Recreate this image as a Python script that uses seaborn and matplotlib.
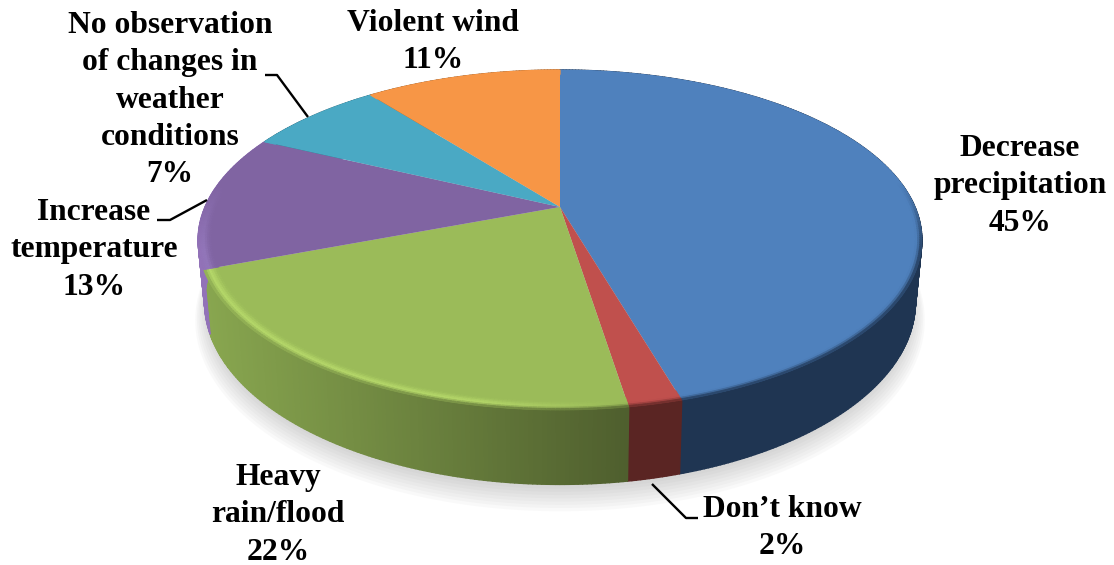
import numpy as np
import seaborn as sns
import matplotlib
matplotlib.use('Agg')
import matplotlib.pyplot as plt
from matplotlib.collections import PolyCollection
from matplotlib.colors import to_rgb
from matplotlib.transforms import Transform

# values (slice sizes, in %)
categories = ['Decrease precipitation', "Don't know", 'Heavy rain/flood',
              'Increase temperature', 'No observation of changes in weather conditions',
              'Violent wind']
shares = [45.5, 2.0, 21.7, 12.9, 7.35, 10.55]
label_texts = ['Decrease\nprecipitation\n45%', 'Don\u2019t know\n2%', 'Heavy\nrain/flood\n22%',
               'Increase\ntemperature\n13%', 'No observation\nof changes in\nweather\nconditions\n7%',
               'Violent wind\n11%']

# style per slice
face_colors = ['#4f81bd', '#c0504d', '#9bbb59', '#8064a2', '#4aa9c4', '#f79646']
wall_left = ['#1f3552', '#5a2523', '#88a64f', '#9272b8', '#2c6a7c', '#a05a20']
wall_right = ['#1f3552', '#5a2523', '#4f5f2e', '#9272b8', '#2c6a7c', '#a05a20']
rim_colors = ['#4f81bd', '#c0504d', '#b9dc6c', '#9478bc', '#4aa9c4', '#f79646']
label_pos = [(1020, 186), (782, 528), (278, 515), (94, 250), (170, 100), (433, 42)]
leaders = [[(265, 75), (277, 75), (308, 117)],
           [(157, 220), (170, 220), (207, 200)],
           [(652, 484), (686, 518), (698, 518)]]

# perspective of the disc, fitted to the picture
CX, CY, A, B, K, DEPTH = 560, 207, 355, 163.6, 0.194, 60


def project(u, v, z=0.0):
    w = 1 + K * v
    x = CX + A * u / w * (1 - 0.018 * z)
    y = CY - B * v / w + DEPTH * z / w
    return x, y


class DiscPerspective(Transform):
    input_dims = 2
    output_dims = 2

    def transform_non_affine(self, values):
        values = np.asarray(values)
        x, y = project(values[:, 0], values[:, 1])
        return np.column_stack([x, y])


def mix(a, b, t):
    return tuple(p + (q - p) * t for p, q in zip(a, b))


sns.set_theme(style='white')
plt.rcParams['font.family'] = ['Liberation Serif', 'DejaVu Serif']
palette = sns.color_palette(face_colors)

fig, ax = plt.subplots(figsize=(11.14, 5.65), dpi=100)
fig.patch.set_facecolor('white')
ax.set_position([0, 0, 1, 1])

wedges, _ = ax.pie(shares, colors=palette, startangle=90, counterclock=False, radius=1,
                   wedgeprops={'linewidth': 0})
disc = DiscPerspective() + ax.transData
for wedge in wedges:
    wedge.set_transform(disc)
    wedge.set_zorder(3)

ax.set_aspect('auto')
ax.set_xlim(0, 1114)
ax.set_ylim(565, 0)
ax.axis('off')

# soft shadow under the pie
ring = np.linspace(0, 2 * np.pi, 360)
for grow in np.linspace(1.03, 0.99, 9):
    sx, sy = project(grow * np.sin(ring), grow * np.cos(ring), 1.0 + (grow - 1) * 5 + 0.1)
    ax.fill(sx, sy, color='#808080', alpha=0.045, lw=0, zorder=1)

# side wall and bevelled rim, cut from the same slice sizes
edges = np.cumsum([0] + shares) / 100 * 2 * np.pi
wall_quads, wall_cols, rim_quads, rim_cols = [], [], [], []
RIM = 0.96
radii = np.linspace(RIM, 1.0, 8)
for i, share in enumerate(shares):
    steps = max(int(share * 6), 6)
    th = np.linspace(edges[i], edges[i + 1], steps + 1)
    base = to_rgb(face_colors[i])
    hi = to_rgb(rim_colors[i])
    for a0, a1 in zip(th[:-1], th[1:]):
        um, vm = np.sin((a0 + a1) / 2), np.cos((a0 + a1) / 2)
        xm, _ = project(um, vm)
        wall = mix(to_rgb(wall_left[i]), to_rgb(wall_right[i]), np.clip((xm - 205) / 420, 0, 1))
        x00, y00 = project(np.sin(a0), np.cos(a0))
        x01, y01 = project(np.sin(a1), np.cos(a1))
        x10, y10 = project(np.sin(a0), np.cos(a0), 1.0)
        x11, y11 = project(np.sin(a1), np.cos(a1), 1.0)
        wall_quads.append([(x00, y00), (x01, y01), (x11, y11), (x10, y10)])
        wall_cols.append(wall)
        # no bevel on the far side of the disc
        front = np.clip((0.15 - vm) / 0.4, 0, 1)
        strength = np.interp(xm, [205, 480, 625], [0.9, 0.9, 0.0])
        for r0, r1 in zip(radii[:-1], radii[1:]):
            t = ((r0 + r1) / 2 - RIM) / (1 - RIM)
            if t < 0.6:
                col = mix(base, hi, (t / 0.6) ** 2 * strength)
            else:
                col = mix(mix(base, hi, strength), wall, ((t - 0.6) / 0.4) ** 1.5)
            col = mix(base, col, front)
            p0 = project(r0 * np.sin(a0), r0 * np.cos(a0))
            p1 = project(r0 * np.sin(a1), r0 * np.cos(a1))
            p2 = project(r1 * np.sin(a1), r1 * np.cos(a1))
            p3 = project(r1 * np.sin(a0), r1 * np.cos(a0))
            rim_quads.append([p0, p1, p2, p3])
            rim_cols.append(col)

ax.add_collection(PolyCollection(wall_quads, facecolors=wall_cols, edgecolors=wall_cols,
                                 linewidths=1.0, zorder=2))
ax.add_collection(PolyCollection(rim_quads, facecolors=rim_cols, edgecolors=rim_cols,
                                 linewidths=0.6, zorder=4))

# labels and leader lines
for text, (lx, ly) in zip(label_texts, label_pos):
    ax.text(lx, ly, text, ha='center', va='center', fontsize=22.7, fontweight='bold',
            color='black', linespacing=1.37, zorder=6)
for line in leaders:
    ax.plot(*zip(*line), color='black', lw=1.7, solid_capstyle='butt', zorder=5)

fig.savefig('out.png', dpi=100, facecolor='white')
